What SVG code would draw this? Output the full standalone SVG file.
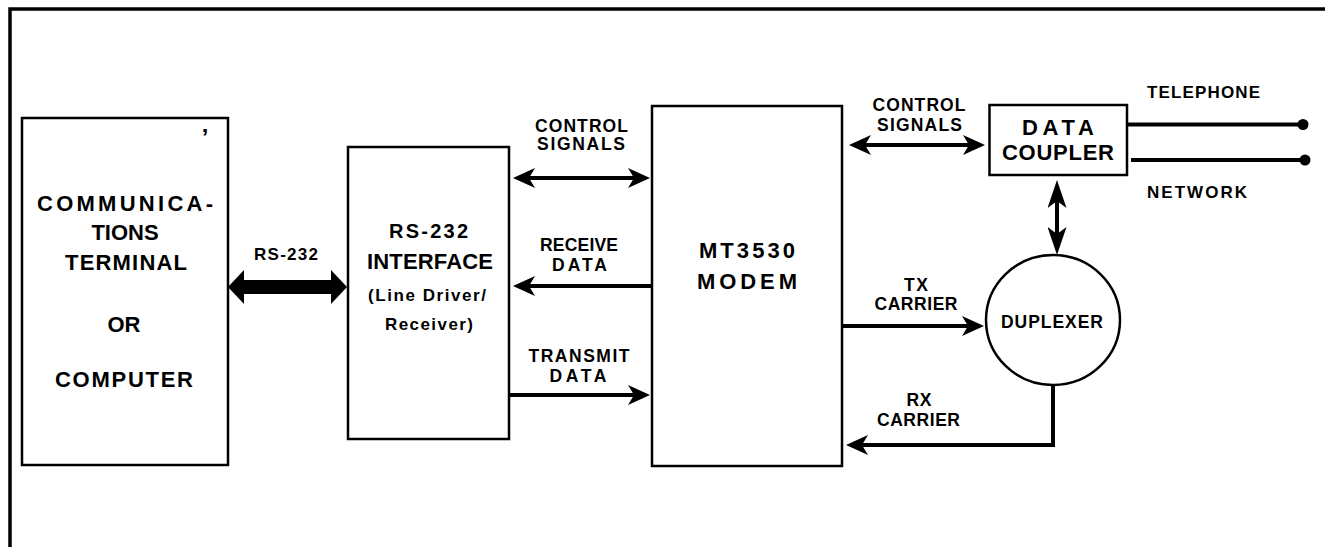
<svg xmlns="http://www.w3.org/2000/svg" width="1325" height="547" viewBox="0 0 1325 547">
<style>
  .box { fill: #fff; stroke: #000; stroke-width: 2.5; }
  .ln { fill: none; stroke: #000; stroke-width: 4; }
  .t { font-family: "Liberation Sans", Arial, sans-serif; font-weight: bold; fill: #000; text-anchor: middle; }
  .big { font-size: 22px; }
  .mid { font-size: 20px; }
  .sm { font-size: 17.5px; }
  .xs { font-size: 17px; }
</style>
<defs>
  <marker id="ah" viewBox="0 0 22 20" refX="6" refY="10" markerWidth="22" markerHeight="20" markerUnits="userSpaceOnUse" orient="auto-start-reverse">
    <path d="M0,0 L22,10 L0,20 L6,10 Z" fill="#000"/>
  </marker>
  <marker id="ahv" viewBox="0 0 28 19" refX="7" refY="9.5" markerWidth="28" markerHeight="19" markerUnits="userSpaceOnUse" orient="auto-start-reverse">
    <path d="M0,0 L28,9.5 L0,19 L7,9.5 Z" fill="#000"/>
  </marker>
</defs>
<rect width="1325" height="547" fill="#fff"/>
<path d="M10,547 V9 H1325" fill="none" stroke="#000" stroke-width="3.5"/>

<g id="terminal">
  <rect class="box" x="22" y="118" width="206" height="347"/>
  <text class="t big" x="125" y="211" textLength="176" lengthAdjust="spacing">COMMUNICA-</text>
  <text class="t big" x="125" y="240">TIONS</text>
  <text class="t big" x="126" y="270" textLength="122" lengthAdjust="spacing">TERMINAL</text>
  <text class="t big" x="124" y="332">OR</text>
  <text class="t big" x="124" y="387" textLength="138" lengthAdjust="spacing">COMPUTER</text>
  <text class="t" x="205" y="146" style="font-size:24px">’</text>
</g>

<g id="rs232-interface">
  <rect class="box" x="348" y="147" width="161" height="292"/>
  <text class="t mid" x="428.5" y="238" textLength="79" lengthAdjust="spacing">RS-232</text>
  <text class="t big" x="430" y="269" textLength="126" lengthAdjust="spacing">INTERFACE</text>
  <text class="t xs" x="427" y="301" textLength="118" lengthAdjust="spacing">(Line Driver/</text>
  <text class="t xs" x="429" y="329.5" textLength="88" lengthAdjust="spacing">Receiver)</text>
</g>

<g id="modem">
  <rect class="box" x="652" y="106" width="190" height="360"/>
  <text class="t big" x="747" y="258" textLength="96" lengthAdjust="spacing">MT3530</text>
  <text class="t big" x="747" y="289" textLength="100" lengthAdjust="spacing">MODEM</text>
</g>

<g id="data-coupler">
  <rect class="box" x="989.5" y="105" width="137.5" height="70"/>
  <text class="t big" x="1058" y="135" textLength="72" lengthAdjust="spacing">DATA</text>
  <text class="t big" x="1058" y="160" textLength="112" lengthAdjust="spacing">COUPLER</text>
</g>

<g id="duplexer">
  <ellipse class="box" cx="1053" cy="320" rx="67" ry="65"/>
  <text class="t sm" x="1052" y="328" textLength="102" lengthAdjust="spacing">DUPLEXER</text>
</g>

<g id="telephone-network">
  <line class="ln" x1="1127" y1="124.5" x2="1303" y2="124.5"/>
  <circle cx="1303" cy="124.5" r="5.5" fill="#000"/>
  <line class="ln" x1="1131" y1="160" x2="1305" y2="160"/>
  <circle cx="1305" cy="160" r="5.5" fill="#000"/>
  <text class="t xs" x="1147" y="98" style="text-anchor:start" textLength="113" lengthAdjust="spacing">TELEPHONE</text>
  <text class="t xs" x="1147" y="198" style="text-anchor:start" textLength="100" lengthAdjust="spacing">NETWORK</text>
</g>

<g id="connectors">
  <polygon points="228,287 244,270 244,280 331,280 331,270 347,287 331,304 331,294 244,294 244,304" fill="#000"/>
  <text class="t xs" x="286" y="260" textLength="64" lengthAdjust="spacing">RS-232</text>

  <line class="ln" x1="529" y1="178" x2="634" y2="178" marker-start="url(#ah)" marker-end="url(#ah)"/>
  <text class="t sm" x="581.5" y="132" textLength="93" lengthAdjust="spacing">CONTROL</text>
  <text class="t sm" x="581" y="150" textLength="88" lengthAdjust="spacing">SIGNALS</text>

  <line class="ln" x1="652" y1="286" x2="529" y2="286" marker-end="url(#ah)"/>
  <text class="t sm" x="579" y="251" textLength="78" lengthAdjust="spacing">RECEIVE</text>
  <text class="t sm" x="579.5" y="271" textLength="55" lengthAdjust="spacing">DATA</text>

  <line class="ln" x1="509" y1="395" x2="634" y2="395" marker-end="url(#ah)"/>
  <text class="t sm" x="579" y="362" textLength="101" lengthAdjust="spacing">TRANSMIT</text>
  <text class="t sm" x="578" y="382" textLength="57" lengthAdjust="spacing">DATA</text>

  <line class="ln" x1="865" y1="145" x2="969" y2="145" marker-start="url(#ah)" marker-end="url(#ah)"/>
  <text class="t sm" x="919" y="111" textLength="93" lengthAdjust="spacing">CONTROL</text>
  <text class="t sm" x="919.5" y="131" textLength="85" lengthAdjust="spacing">SIGNALS</text>

  <line class="ln" x1="1057" y1="201" x2="1057" y2="234" marker-start="url(#ahv)" marker-end="url(#ahv)"/>

  <line class="ln" x1="842" y1="326" x2="968" y2="326" marker-end="url(#ah)"/>
  <text class="t sm" x="916" y="291" textLength="24" lengthAdjust="spacing">TX</text>
  <text class="t sm" x="916" y="310" textLength="83" lengthAdjust="spacing">CARRIER</text>

  <path class="ln" d="M1053,385 V445 H862" marker-end="url(#ah)"/>
  <text class="t sm" x="919" y="406" textLength="25" lengthAdjust="spacing">RX</text>
  <text class="t sm" x="918.5" y="425.5" textLength="83" lengthAdjust="spacing">CARRIER</text>
</g>
</svg>
